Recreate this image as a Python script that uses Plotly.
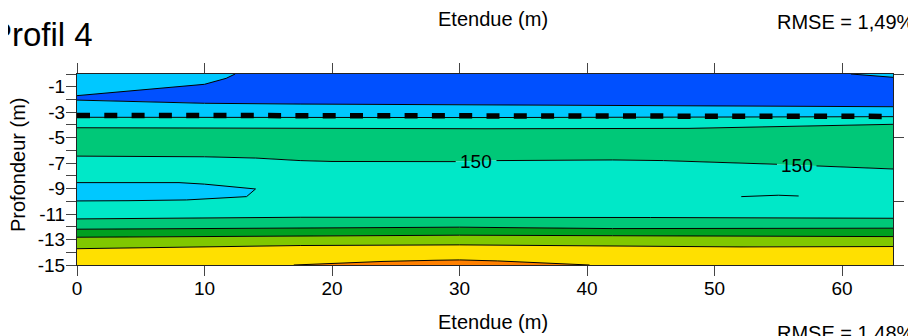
import plotly.graph_objects as go

# ---------------- data (x = Etendue in m, y = depth in m, negative downwards)
X_RANGE = [0, 64]
Y_RANGE = [-15, 0]

# contour boundaries
TOP_X = [0, 64]
TOP_Y = [0, 0]
A_X = [0, 5, 10, 11.7, 12.4]                 # lower edge of the top-left light-blue body
A_Y = [-1.70, -1.26, -0.81, -0.34, 0.0]
S_X = [60.7, 64]                              # top-right light-blue sliver edge
S_Y = [0.0, -0.26]
B_X = [0, 10, 17.5, 35, 47, 64]
B_Y = [-2.05, -2.30, -2.36, -2.45, -2.50, -2.57]
C_X = [0, 32, 64]
C_Y = [-3.40, -3.42, -3.35]
D_X = [0, 16, 32, 48, 56, 64]
D_Y = [-4.22, -4.28, -4.30, -4.27, -4.12, -3.95]
E_X = [0, 10, 14, 17.5, 20, 24, 29.7, 32.9, 36, 42, 46, 52, 54.9, 58, 64]   # 150 contour
E_Y = [-6.45, -6.50, -6.60, -6.80, -6.87, -6.88, -6.88, -6.80, -6.77, -6.75,
       -6.80, -7.00, -7.09, -7.22, -7.46]
LENS_X = [0, 4, 8, 10, 12.3, 14, 13.3, 10, 8.6, 4, 0]
LENS_Y = [-8.53, -8.52, -8.53, -8.65, -8.84, -9.03, -9.63, -9.80, -9.89, -9.95, -9.97]
F_X = [0, 17.5, 45, 64]
F_Y = [-11.38, -11.25, -11.27, -11.33]
G_X = [0, 17.5, 30, 42, 64]
G_Y = [-12.19, -12.11, -12.03, -12.14, -12.11]
H_X = [0, 17.5, 30, 42, 64]
H_Y = [-12.82, -12.72, -12.66, -12.70, -12.77]
I_X = [0, 10, 17.5, 30, 42, 52, 64]
I_Y = [-13.72, -13.60, -13.47, -13.42, -13.48, -13.58, -13.55]
BOT_X = [0, 64]
BOT_Y = [-15, -15]
OR_X = [17, 20, 24, 28, 30, 33, 36, 38.6, 40.2]
OR_Y = [-15, -14.87, -14.72, -14.63, -14.60, -14.68, -14.80, -14.94, -15]
TH_X = [52.1, 55, 56.6]
TH_Y = [-9.63, -9.52, -9.58]

DASH_X = [0, 64]
DASH_Y = [-3.25, -3.33]

LABEL_X = [31.3, 56.5]
LABEL_Y = [-6.87, -7.20]
LABEL_TXT = ["150", "150"]
LABEL_GAPS = [(29.7, 32.9), (54.9, 58.0)]

X_TICKS = [0, 10, 20, 30, 40, 50, 60]
Y_TICKS = list(range(-15, 1))
Y_TICK_TEXT = [str(v) if v % 2 else "" for v in Y_TICKS]
Y_RIGHT_TICKS = [0, -5, -10, -15]

# colours
C_DBLUE = "#0050FF"
C_LBLUE = "#00C8FF"
C_TURQ = "#00E8C8"
C_GREEN = "#00C878"
C_DGREEN = "#00A020"
C_YGREEN = "#80C800"
C_YELLOW = "#FFE000"
C_ORANGE = "#FF8000"

FONT = "Liberation Sans, Arial, sans-serif"

fig = go.Figure()

# stacked bands, top to bottom
bands = [
    (TOP_X, TOP_Y, None),
    (B_X, B_Y, C_DBLUE),
    (C_X, C_Y, C_LBLUE),
    (D_X, D_Y, C_TURQ),
    (E_X, E_Y, C_GREEN),
    (F_X, F_Y, C_TURQ),
    (G_X, G_Y, C_GREEN),
    (H_X, H_Y, C_DGREEN),
    (I_X, I_Y, C_YGREEN),
    (BOT_X, BOT_Y, C_YELLOW),
]
for xs, ys, col in bands:
    fig.add_trace(go.Scatter(
        x=xs, y=ys, mode="lines", line=dict(width=0, color="rgba(0,0,0,0)"),
        fill=None if col is None else "tonexty", fillcolor=col,
        hoverinfo="skip", showlegend=False))

# enclosed bodies
bodies = [
    (A_X + [0], A_Y + [0], C_LBLUE),
    (S_X + [64], S_Y + [0], C_LBLUE),
    (LENS_X, LENS_Y, C_LBLUE),
    (OR_X, OR_Y, C_ORANGE),
]
for xs, ys, col in bodies:
    fig.add_trace(go.Scatter(
        x=xs, y=ys, mode="lines", line=dict(width=0, color="rgba(0,0,0,0)"),
        fill="toself", fillcolor=col, hoverinfo="skip", showlegend=False))


def gapped(xs, ys, gaps):
    ox, oy = [], []
    for i in range(len(xs)):
        ox.append(xs[i])
        oy.append(ys[i])
        if i + 1 < len(xs):
            for g0, g1 in gaps:
                if abs(xs[i] - g0) < 1e-9 and abs(xs[i + 1] - g1) < 1e-9:
                    ox.append(None)
                    oy.append(None)
    return ox, oy


ex, ey = gapped(E_X, E_Y, LABEL_GAPS)
contour_lines = [
    (A_X, A_Y), (S_X, S_Y), (B_X, B_Y), (C_X, C_Y), (D_X, D_Y), (ex, ey),
    (LENS_X, LENS_Y), (F_X, F_Y), (G_X, G_Y), (H_X, H_Y), (I_X, I_Y),
    (OR_X, OR_Y), (TH_X, TH_Y),
]
for xs, ys in contour_lines:
    fig.add_trace(go.Scatter(
        x=xs, y=ys, mode="lines", line=dict(width=1, color="#000000"),
        connectgaps=False, hoverinfo="skip", showlegend=False))

# dashed marker line
fig.add_trace(go.Scatter(
    x=DASH_X, y=DASH_Y, mode="lines",
    line=dict(width=5.5, color="#000000", dash="13px,14.3px"),
    hoverinfo="skip", showlegend=False))

# dummy trace for the top/right frame axes
fig.add_trace(go.Scatter(x=[None], y=[None], xaxis="x2", yaxis="y2",
                         mode="markers", hoverinfo="skip", showlegend=False))

for x, y, t in zip(LABEL_X, LABEL_Y, LABEL_TXT):
    fig.add_annotation(x=x, y=y, xref="x", yref="y", text=t, showarrow=False,
                       font=dict(family=FONT, size=19, color="#000000"),
                       xanchor="center", yanchor="middle")

# the page body adds an 8 px offset; the figure is sized to fill the rest
OFF = 8
W, H = 916 - OFF, 336 - OFF
L, R, T, B = 77 - OFF, 23, 74 - OFF, 71
PW, PH = W - L - R, H - T - B


def px(xp):  # page pixel -> paper x
    return (xp - OFF - L) / PW


def py(yp):  # page pixel -> paper y
    return (H - B - (yp - OFF)) / PH


texts = [
    ("Profil 4", 95, 34, 33, "right"),
    ("Etendue (m)", 492.5, 19, 20, "center"),
    ("RMSE = 1,49%", 775, 22, 20, "left"),
    ("Etendue (m)", 492.5, 322, 20, "center"),
    ("RMSE = 1,48%", 775, 333, 20, "left"),
]
for t, xp, yp, sz, anc in texts:
    fig.add_annotation(x=px(xp), y=py(yp), xref="paper", yref="paper", text=t,
                       showarrow=False, xanchor=anc, yanchor="middle",
                       font=dict(family=FONT, size=sz, color="#000000"))

fig.add_annotation(x=px(18), y=py(164), xref="paper", yref="paper",
                   text="Profondeur (m)", textangle=-90, showarrow=False,
                   xanchor="center", yanchor="middle",
                   font=dict(family=FONT, size=20, color="#000000"))

axis_common = dict(showgrid=False, zeroline=False, showline=True,
                   linecolor="#222222", linewidth=1, ticks="outside",
                   tickcolor="#444444", tickwidth=1, ticklen=10)

fig.update_layout(
    width=W, height=H,
    margin=dict(l=L, r=R, t=T, b=B, pad=0),
    paper_bgcolor="white", plot_bgcolor="white",
    showlegend=False, hovermode=False,
    font=dict(family=FONT, color="#000000"),
    xaxis=dict(range=X_RANGE, tickmode="array", tickvals=X_TICKS,
               tickfont=dict(family=FONT, size=19, color="#000000"),
               ticklabelstandoff=-4, **axis_common),
    yaxis=dict(range=Y_RANGE, tickmode="array", tickvals=Y_TICKS,
               ticktext=Y_TICK_TEXT, ticklabelstandoff=-3,
               tickfont=dict(family=FONT, size=19, color="#000000"),
               **axis_common),
    xaxis2=dict(range=X_RANGE, overlaying="x", side="top", anchor="y",
                tickmode="array", tickvals=X_TICKS, showticklabels=False,
                **axis_common),
    yaxis2=dict(range=Y_RANGE, overlaying="y", side="right", anchor="x",
                tickmode="array", tickvals=Y_RIGHT_TICKS, showticklabels=False,
                **axis_common),
)

fig.write_html("out.html")
